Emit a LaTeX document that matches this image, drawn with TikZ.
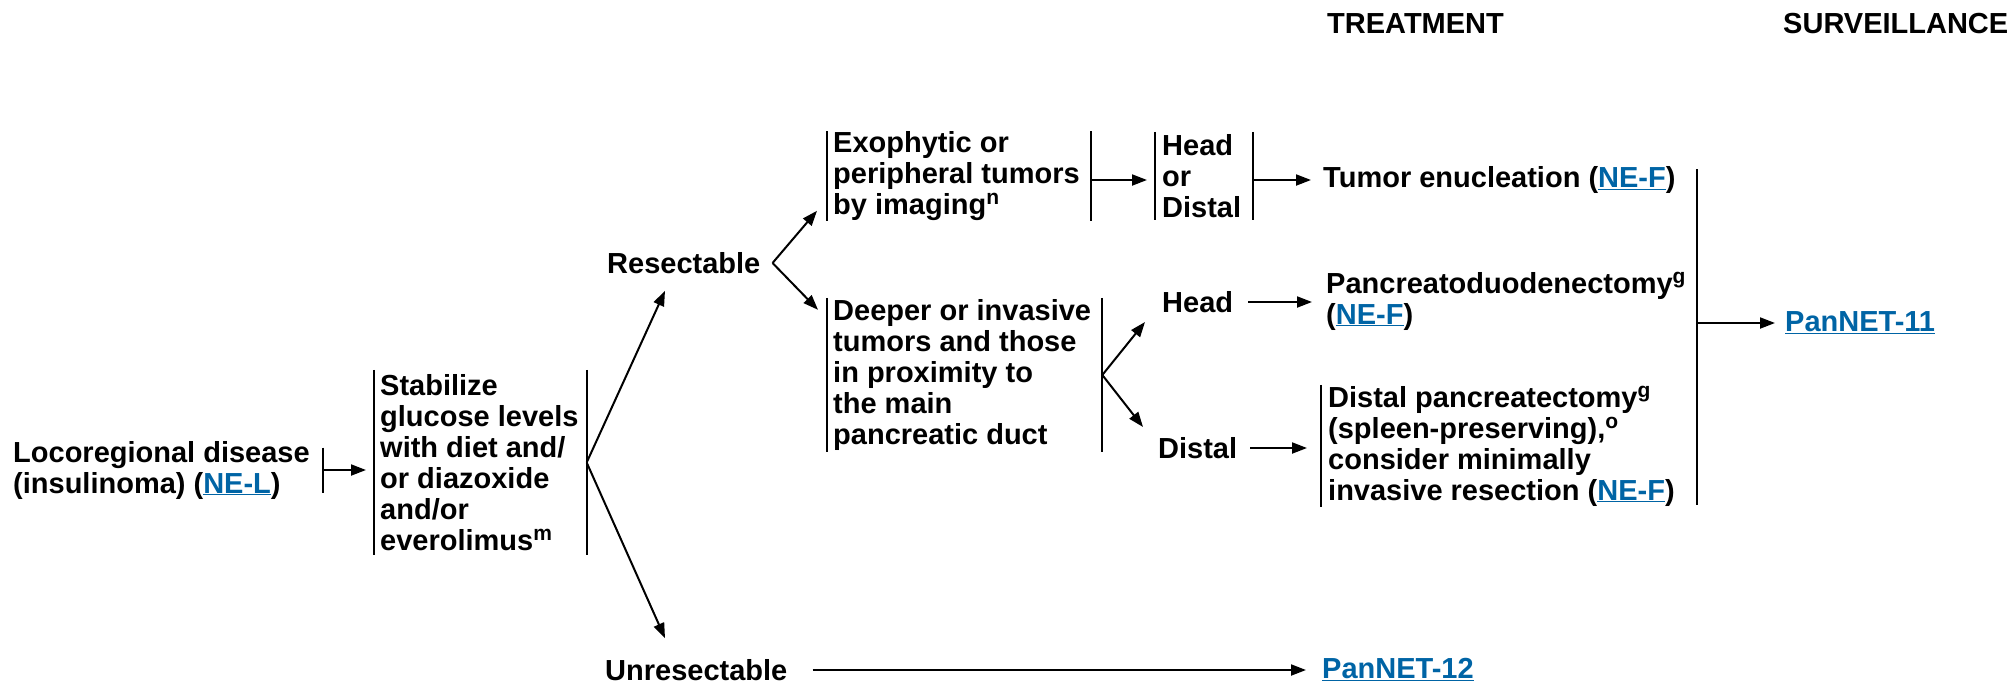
\documentclass[tikz,border=0pt]{standalone}
\usepackage{fontspec}
\setmainfont{Liberation Sans}
\usetikzlibrary{arrows.meta}
\definecolor{linkblue}{RGB}{0,100,165}
\newcommand\lnk[1]{\textcolor{linkblue}{\underline{#1}}}
\newcommand\supx[1]{\raisebox{10pt}{\fontsize{21pt}{21pt}\selectfont #1}}
\begin{document}
\begin{tikzpicture}[x=1pt,y=-1pt,
  txt/.style={font=\bfseries\fontsize{29pt}{31pt}\selectfont, align=left, inner sep=0pt, anchor=west},
  bar/.style={line width=2pt},
  arr/.style={line width=2pt,-{Triangle[length=15pt,width=11pt]}}]
\useasboundingbox (0,0) rectangle (2011,683);

% headers
\node[txt] (treat) at (1327,24) {TREATMENT};
\node[txt] (surv) at (1783,24) {SURVEILLANCE};

% nodes
\node[txt] (loco) at (13,470) {Locoregional disease\\(insulinoma) (\lnk{NE-L})};
\node[txt,minimum height=185pt] (stab) at (380,462.5) {Stabilize\\glucose levels\\with diet and/\\or diazoxide\\and/or\\everolimus\supx{m}};
\node[txt] (res) at (607,263) {Resectable};
\node[txt] (unres) at (605,670) {Unresectable};
\node[txt,minimum height=88pt] (exo) at (833,176) {Exophytic or\\peripheral tumors\\by imaging\supx{n}};
\node[txt,minimum height=154pt] (deep) at (833,375) {Deeper or invasive\\tumors and those\\in proximity to\\the main\\pancreatic duct};
\node[txt,minimum height=88pt] (hod) at (1162,176) {Head\\or\\Distal};
\node[txt] (head) at (1162,302) {Head};
\node[txt] (distal) at (1158,448) {Distal};
\node[txt] (tum) at (1323,180) {Tumor enucleation (\lnk{NE-F})};
\node[txt] (pd) at (1326,301) {Pancreatoduodenectomy\supx{g}\\(\lnk{NE-F})};
\node[txt,minimum height=122pt] (dp) at (1328,446) {Distal pancreatectomy\supx{g}\\(spleen-preserving),\supx{o}\\consider minimally\\invasive resection (\lnk{NE-F})};
\node[txt] (pn11) at (1785,323) {\lnk{PanNET-11}};
\node[txt] (pn12) at (1322,670) {\lnk{PanNET-12}};

% bars
\draw[bar] ([xshift=13pt,yshift=22.5pt]loco.east) -- ([xshift=13pt,yshift=-22.5pt]loco.east);
\draw[bar] ([xshift=-6pt]stab.north west) -- ([xshift=-6pt]stab.south west);
\draw[bar] ([xshift=8pt]stab.north east) -- ([xshift=8pt]stab.south east);
\draw[bar] ([xshift=-6pt]exo.north west) -- ([xshift=-6pt]exo.south west);
\draw[bar] ([xshift=11pt]exo.north east) -- ([xshift=11pt]exo.south east);
\draw[bar] ([xshift=-6pt]deep.north west) -- ([xshift=-6pt]deep.south west);
\draw[bar] ([xshift=11pt]deep.north east) -- ([xshift=11pt]deep.south east);
\draw[bar] ([xshift=-7pt]hod.north west) -- ([xshift=-7pt]hod.south west);
\draw[bar] ([xshift=12pt]hod.north east) -- ([xshift=12pt]hod.south east);
\draw[bar] ([xshift=-7pt]dp.north west) -- ([xshift=-7pt]dp.south west);
\coordinate (bbT) at (1697,169);
\coordinate (bbB) at (1697,505);
\draw[bar] (bbT) -- (bbB);

% connectors
\coordinate (locoR) at ([xshift=13pt]loco.east);
\draw[arr] (locoR) -- ([xshift=-14pt]stab.west |- locoR);
\coordinate (stabR) at ([xshift=8pt]stab.east);
\draw[arr] (stabR) -- ([xshift=58pt,yshift=-17pt]res.south west);
\draw[arr] (stabR) -- ([xshift=60pt,yshift=21pt]unres.north west);
\coordinate (resR) at ([xshift=12pt]res.east);
\draw[arr] (resR) -- ([xshift=-16pt,yshift=10pt]exo.south west);
\draw[arr] (resR) -- ([xshift=-15pt,yshift=-12pt]deep.north west);
\draw[arr] ([xshift=11pt]exo.east |- tum.west) -- ([xshift=-15pt]hod.west |- tum.west);
\draw[arr] ([xshift=12pt]hod.east |- tum.west) -- ([xshift=-12pt]tum.west);
\coordinate (deepR) at ([xshift=11pt]deep.east);
\draw[arr] (deepR) -- ([xshift=-17pt,yshift=-20pt]head.west);
\draw[arr] (deepR) -- ([xshift=-15pt,yshift=21pt]distal.west);
\draw[arr] ([xshift=15pt]head.east) -- ([xshift=-14pt]head.east -| pd.west);
\draw[arr] ([xshift=13pt]distal.east) -- ([xshift=-21pt]distal.east -| dp.west);
\draw[arr] (bbT |- pn11.west) -- ([xshift=-10pt]pn11.west);
\draw[arr] ([xshift=25pt]unres.east) -- ([xshift=-16pt]pn12.west);
\end{tikzpicture}
\end{document}
